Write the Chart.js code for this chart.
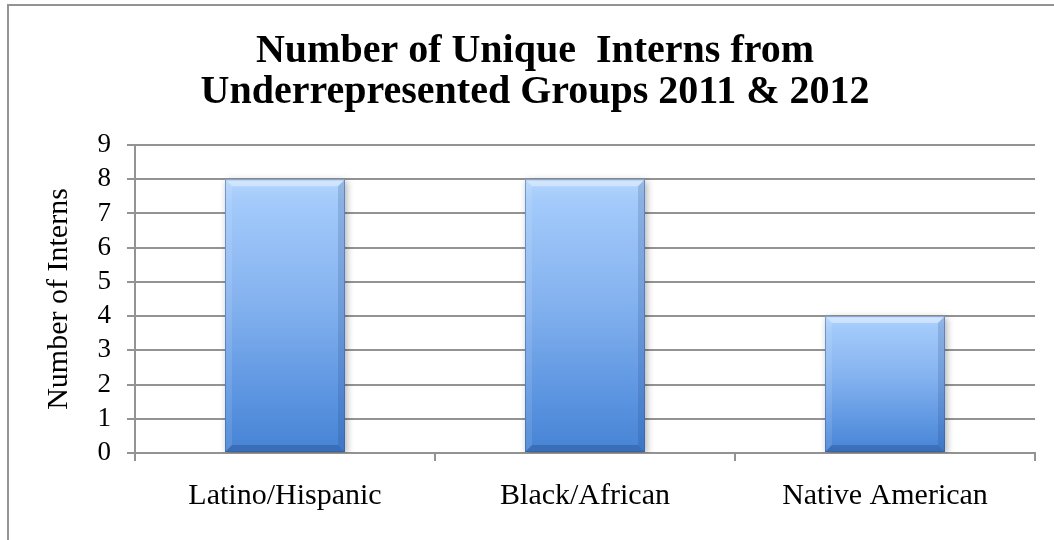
<!DOCTYPE html>
<html lang="en">
    <head>
        <meta charset="UTF-8">
        <title>Unique Interns</title>
        <script src="https://cdn.jsdelivr.net/npm/chart.js@4.4.0/dist/chart.umd.min.js"></script>
        <style>
            html, body { margin: 0; padding: 0; background: #fff; overflow: hidden; }
            #frame {
                position: absolute; left: 7px; top: 4px; width: 1200px; height: 700px;
                border-top: 2px solid #939393; border-left: 2px solid #939393;
            }
            #chart { position: absolute; left: 0; top: 0; }
        </style>
    </head>
    <body>
        <div id="frame"></div>
        <canvas id="chart" width="1070" height="540"></canvas>

    <script>
        const titleLines = ['Number of Unique  Interns from', 'Underrepresented Groups 2011 & 2012'];
        const groups = ['Latino/Hispanic', 'Black/African', 'Native American'];
        const interns = [8, 8, 4];
        const yAxisTitle = 'Number of Interns';

        const serif = '"Liberation Serif", "Times New Roman", serif';
        const gridGrey = '#939393';

        // vertical gradient per bar, computed from the y scale
        function barFill(c) {
            const chart = c.chart;
            const y = chart.scales.y;
            if (!chart.chartArea || !y || c.raw === undefined) return '#7aaaf0';
            const top = y.getPixelForValue(c.raw);
            const base = y.getPixelForValue(0);
            if (!isFinite(top) || !isFinite(base)) return '#7aaaf0';
            const g = chart.ctx.createLinearGradient(0, top, 0, base);
            g.addColorStop(0, '#b4d6fc');
            g.addColorStop(0.08, '#a3cafa');
            g.addColorStop(0.45, '#84b2ef');
            g.addColorStop(0.8, '#5b94e0');
            g.addColorStop(1, '#4683d4');
            return g;
        }

        function quad(ctx, pts, color) {
            ctx.beginPath();
            ctx.moveTo(pts[0][0], pts[0][1]);
            for (let i = 1; i < pts.length; i++) ctx.lineTo(pts[i][0], pts[i][1]);
            ctx.closePath();
            ctx.fillStyle = color;
            ctx.fill();
        }

        const bevelPlugin = {
            id: 'bevel',
            beforeDatasetDraw(chart) {
                const ctx = chart.ctx;
                ctx.save();
                ctx.shadowColor = 'rgba(0,0,0,0.3)';
                ctx.shadowBlur = 7;
                ctx.shadowOffsetX = 2;
                ctx.shadowOffsetY = 2;
            },
            afterDatasetDraw(chart, args) {
                const ctx = chart.ctx;
                ctx.restore();
                const d = 7;
                args.meta.data.forEach(bar => {
                    const p = bar.getProps(['x', 'y', 'base', 'width'], true);
                    const l = p.x - p.width / 2, r = p.x + p.width / 2, t = p.y, b = p.base;
                    quad(ctx, [[l, t], [r, t], [r - d, t + d], [l + d, t + d]], 'rgba(255,255,255,0.4)');
                    quad(ctx, [[l, b], [r, b], [r - d, b - d], [l + d, b - d]], 'rgba(25,60,120,0.3)');
                    quad(ctx, [[l, t], [l + d, t + d], [l + d, b - d], [l, b]], 'rgba(255,255,255,0.1)');
                    quad(ctx, [[r, t], [r - d, t + d], [r - d, b - d], [r, b]], 'rgba(25,60,120,0.18)');
                    ctx.strokeStyle = 'rgba(50,90,160,0.5)';
                    ctx.lineWidth = 1;
                    ctx.strokeRect(l + 0.5, t + 0.5, p.width - 1, b - t - 1);
                });
            }
        };

        new Chart(document.getElementById('chart'), {
            type: 'bar',
            data: {
                labels: groups,
                datasets: [{
                    label: yAxisTitle,
                    data: interns,
                    backgroundColor: barFill,
                    borderWidth: 0,
                    barPercentage: 0.4,
                    categoryPercentage: 1
                }]
            },
            options: {
                responsive: false,
                animation: false,
                layout: { padding: { left: 35, right: 35, top: 0, bottom: 0 } },
                plugins: {
                    legend: { display: false },
                    tooltip: { enabled: false },
                    title: {
                        display: true,
                        text: titleLines,
                        color: '#000',
                        font: { family: serif, size: 40, weight: 'bold', lineHeight: 1.025 },
                        padding: { top: 31, bottom: 32 }
                    }
                },
                scales: {
                    x: {
                        grid: {
                            offset: true,
                            drawOnChartArea: false,
                            drawTicks: true,
                            tickLength: 8,
                            color: gridGrey,
                            lineWidth: 2
                        },
                        border: { color: gridGrey, width: 2 },
                        ticks: {
                            color: '#000',
                            padding: 17,
                            font: { family: serif, size: 30 }
                        },
                        afterFit: s => { s.height = 87; }
                    },
                    y: {
                        min: 0,
                        max: 9,
                        ticks: {
                            stepSize: 1,
                            autoSkip: false,
                            color: '#000',
                            padding: 16,
                            font: { family: serif, size: 27 }
                        },
                        grid: { color: gridGrey, lineWidth: 2, tickLength: 8 },
                        border: { color: gridGrey, width: 2 },
                        title: {
                            display: true,
                            text: yAxisTitle,
                            color: '#000',
                            font: { family: serif, size: 30 },
                            padding: { top: 6, bottom: 0 }
                        },
                        afterFit: s => { s.width = 100; }
                    }
                }
            },
            plugins: [bevelPlugin]
        });
    </script>
    </body>
</html>
